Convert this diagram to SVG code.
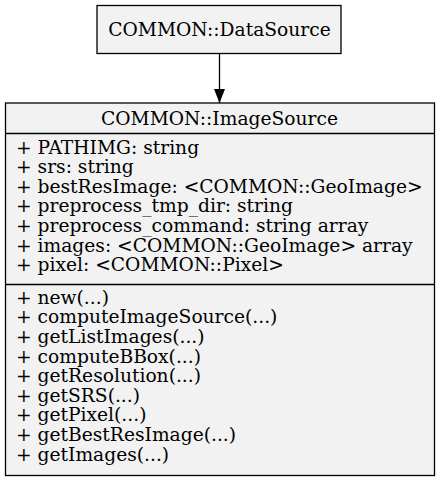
<svg xmlns="http://www.w3.org/2000/svg" width="440" height="481" viewBox="0 0 440 481">
<style>
text{font-family:"DejaVu Serif",serif;font-size:18.67px;fill:#000}
.box{fill:#f2f2f2;stroke:#000;stroke-width:1.3}
.sep{stroke:#000;stroke-width:1.3}
.c{text-anchor:middle}
</style>
<defs>
<marker id="arr" markerWidth="14" markerHeight="11" refX="14" refY="5.5" orient="auto" markerUnits="userSpaceOnUse">
<path d="M0,0 L14,5.5 L0,11 z" fill="#000"/>
</marker>
</defs>
<rect width="440" height="481" fill="#fff"/>
<g id="connectors">
<line x1="219.5" y1="53" x2="219.5" y2="103" stroke="#000" stroke-width="1.3" marker-end="url(#arr)"/>
</g>
<g id="DataSource">
<rect class="box" x="97" y="5.5" width="244" height="48"/>
<text class="c" x="219.5" y="35.5">COMMON::DataSource</text>
</g>
<g id="ImageSource">
<rect class="box" x="5.5" y="103" width="429" height="372.5"/>
<text class="c" x="219.5" y="125">COMMON::ImageSource</text>
<line class="sep" x1="5.5" y1="133.5" x2="434.5" y2="133.5"/>
<text x="16" y="153.5">+ PATHIMG: string</text>
<text x="16" y="173">+ srs: string</text>
<text x="16" y="192.5">+ bestResImage: &lt;COMMON::GeoImage&gt;</text>
<text x="16" y="212">+ preprocess_tmp_dir: string</text>
<text x="16" y="232">+ preprocess_command: string array</text>
<text x="16" y="251.5">+ images: &lt;COMMON::GeoImage&gt; array</text>
<text x="16" y="271">+ pixel: &lt;COMMON::Pixel&gt;</text>
<line class="sep" x1="5.5" y1="284.5" x2="434.5" y2="284.5"/>
<text x="16" y="303.5">+ new(...)</text>
<text x="16" y="323">+ computeImageSource(...)</text>
<text x="16" y="343">+ getListImages(...)</text>
<text x="16" y="362.5">+ computeBBox(...)</text>
<text x="16" y="382">+ getResolution(...)</text>
<text x="16" y="401.5">+ getSRS(...)</text>
<text x="16" y="421">+ getPixel(...)</text>
<text x="16" y="441">+ getBestResImage(...)</text>
<text x="16" y="460.5">+ getImages(...)</text>
</g>
</svg>
